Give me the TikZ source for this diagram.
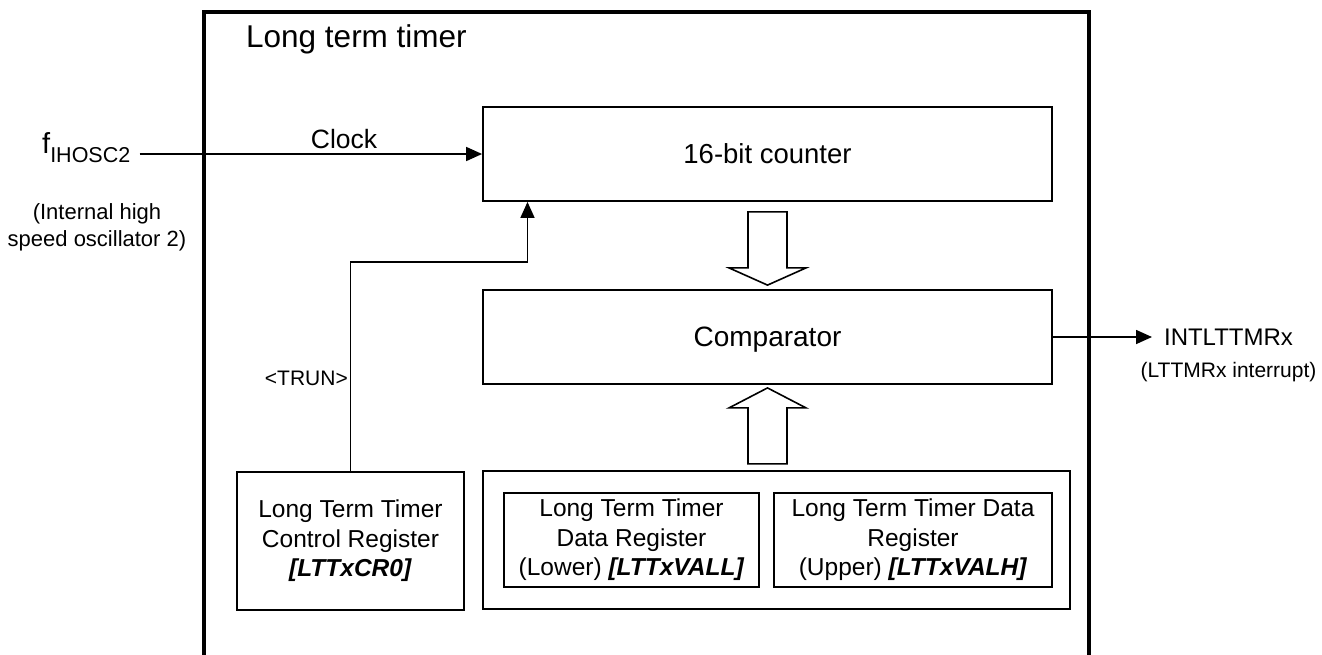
\documentclass[tikz,border=0pt]{standalone}
\usepackage{fontspec}
\setmainfont{Liberation Sans}
\usetikzlibrary{arrows.meta,calc}
\tikzset{
  blk/.style={draw, line width=1.8pt, rectangle, inner sep=0pt},
  reg/.style={draw, line width=1.5pt, rectangle, inner sep=0pt, align=center, font=\fontsize{24.5}{29.5}\selectfont},
  arr/.style={line width=1.6pt, -{Triangle[length=16pt,width=14pt]}},
  bigarr/.style={draw, line width=1.6pt, fill=white, line join=miter},
}
\begin{document}
\begin{tikzpicture}[x=1pt,y=-1pt]
\useasboundingbox (0,0) rectangle (1322,654);
% outer frame (bottom edge beyond the picture)
\draw[line width=4pt] (203.5,670) -- (203.5,11.5) -- (1089,11.5) -- (1089,670);
\node[anchor=base west, inner sep=0pt, font=\fontsize{31.5}{36}\selectfont] (title) at (246,47) {Long term timer};

% main blocks
\node[blk, minimum width=569pt, minimum height=94pt, font=\fontsize{27.5}{32}\selectfont] (cnt) at (767.5,154) {16-bit counter};
\node[blk, minimum width=569pt, minimum height=94pt, font=\fontsize{28}{32}\selectfont, text depth=0pt] (cmp) at (767.5,337) {Comparator};

% registers
\node[reg, line width=1.8pt, minimum width=227pt, minimum height=138pt] (ctrl) at (350.5,541)
  {Long Term Timer\\Control Register\\\textbf{\textit{[LTTxCR0]}}};
\node[blk, minimum width=587pt, minimum height=138pt] (data) at (776.5,540) {};
\node[reg, minimum width=255pt, minimum height=94pt] (dl) at (631.5,540)
  {Long Term Timer\\Data Register\\(Lower) \textbf{\textit{[LTTxVALL]}}};
\node[reg, minimum width=278pt, minimum height=94pt] (dh) at (913,540)
  {Long Term Timer Data\\Register\\(Upper) \textbf{\textit{[LTTxVALH]}}};

% clock input
\node[anchor=base west, inner sep=0pt, font=\fontsize{29}{32}\selectfont] (fin) at (42,153)
  {f{\fontsize{21.5}{24}\selectfont\raisebox{-9pt}{IHOSC2}}};
\node[align=center, inner sep=0pt, font=\fontsize{22}{27}\selectfont] (osc) at (97,227)
  {(Internal high\\speed oscillator 2)};
\draw[arr, shorten <=9pt] (fin.east |- cnt.west) -- (cnt.west);
\node[anchor=base, inner sep=0pt, font=\fontsize{26.5}{30}\selectfont] (clk) at (344,148) {Clock};

% TRUN
\coordinate (bend) at (527.5,262);
\draw[arr] (ctrl.north) |- (bend) -- (bend |- cnt.south);
\node[anchor=base east, inner sep=0pt, font=\fontsize{21}{26}\selectfont] (trun) at (348,385) {<TRUN>};

% output
\coordinate (outend) at (1152,337);
\draw[arr] (cmp.east) -- (outend);
\node[anchor=base, inner sep=0pt, font=\fontsize{24}{28}\selectfont] (intl) at (1228.5,345) {INTLTTMRx};
\node[anchor=base, inner sep=0pt, font=\fontsize{21}{26}\selectfont] (intr) at (1228.5,377) {(LTTMRx interrupt)};

% block arrows
\draw[bigarr] ($(cnt.south)+(-19.5,10)$) -- ($(cnt.south)+(19.5,10)$) -- ($(cnt.south)+(19.5,66)$)
  -- ($(cnt.south)+(38.5,66)$) -- ($(cmp.north)+(0,-4)$) -- ($(cnt.south)+(-38.5,66)$)
  -- ($(cnt.south)+(-19.5,66)$) -- cycle;
\draw[bigarr] ($(cmp.south)+(-19.5,79)$) -- ($(cmp.south)+(19.5,79)$) -- ($(cmp.south)+(19.5,23)$)
  -- ($(cmp.south)+(38.5,23)$) -- ($(cmp.south)+(0,3)$) -- ($(cmp.south)+(-38.5,23)$)
  -- ($(cmp.south)+(-19.5,23)$) -- cycle;
\end{tikzpicture}
\end{document}
